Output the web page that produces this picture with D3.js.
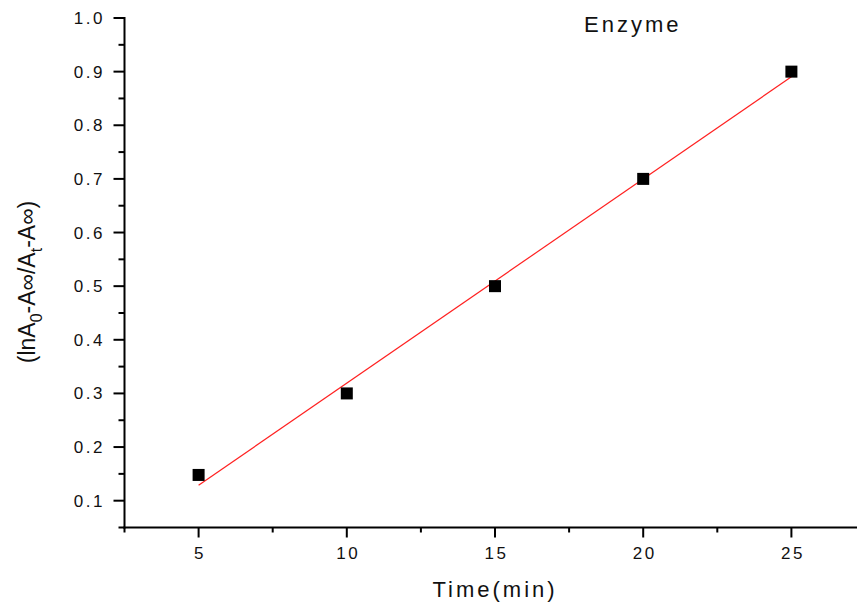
<!DOCTYPE html>
<html lang="en">
<head>
  <meta charset="UTF-8" />
  <title>Enzyme</title>
  <style>
    html, body {
      margin: 0;
      padding: 0;
      background: #fff;
      font-family: Arial, "Liberation Sans", sans-serif;
    }
    svg { display: block; }
    .tick-label { font-size: 17px; letter-spacing: 2.5px; fill: #111; }
    .title { font-size: 22px; letter-spacing: 3px; fill: #111; }
  </style>
</head>
<body>
<svg id="chart" width="857" height="603"></svg>

<script src="https://d3js.org/d3.v7.min.js"></script>
<script>
  // data
  const times = [5, 10, 15, 20, 25];
  const values = [0.148, 0.3, 0.5, 0.7, 0.9];
  const xTickValues = [5, 10, 15, 20, 25];
  const yTickValues = [0.1, 0.2, 0.3, 0.4, 0.5, 0.6, 0.7, 0.8, 0.9, 1.0];

  const svg = d3.select("#chart");

  const x = d3.scaleLinear().domain([2.5, 27.5]).range([124.5, 865.5]);
  const y = d3.scaleLinear().domain([0.05, 1.0]).range([527.5, 18]);

  // least squares fit, drawn between the first and last time
  const mx = d3.mean(times), my = d3.mean(values);
  const slope = d3.sum(times, (t, i) => (t - mx) * (values[i] - my)) /
                d3.sum(times, t => (t - mx) * (t - mx));
  const intercept = my - slope * mx;
  const fitX = [d3.min(times), d3.max(times)];

  // axes
  const xMinor = d3.range(2.5, 28, 5);
  const yMinor = d3.range(0.05, 1.0, 0.1);

  const gx = svg.append("g").attr("stroke", "#000").attr("stroke-width", 2);
  gx.append("line")
    .attr("x1", x(2.5) - 1).attr("x2", 857)
    .attr("y1", y(0.05)).attr("y2", y(0.05));
  gx.selectAll(".xmaj").data(xTickValues).enter().append("line")
    .attr("x1", d => x(d)).attr("x2", d => x(d))
    .attr("y1", y(0.05)).attr("y2", y(0.05) + 10);
  gx.selectAll(".xmin").data(xMinor).enter().append("line")
    .attr("x1", d => x(d)).attr("x2", d => x(d))
    .attr("y1", y(0.05)).attr("y2", y(0.05) + 5);

  const gy = svg.append("g").attr("stroke", "#000").attr("stroke-width", 2);
  gy.append("line")
    .attr("x1", x(2.5)).attr("x2", x(2.5))
    .attr("y1", y(1.0) - 1).attr("y2", y(0.05) + 1);
  gy.selectAll(".ymaj").data(yTickValues).enter().append("line")
    .attr("x1", x(2.5) - 11).attr("x2", x(2.5))
    .attr("y1", d => y(d)).attr("y2", d => y(d));
  gy.selectAll(".ymin").data(yMinor).enter().append("line")
    .attr("x1", x(2.5) - 6).attr("x2", x(2.5))
    .attr("y1", d => y(d)).attr("y2", d => y(d));

  svg.selectAll(".xl").data(xTickValues).enter().append("text")
    .attr("class", "tick-label")
    .attr("x", d => x(d) + 1.5)
    .attr("y", 559)
    .attr("text-anchor", "middle")
    .text(d => d);

  svg.selectAll(".yl").data(yTickValues).enter().append("text")
    .attr("class", "tick-label")
    .attr("x", 105)
    .attr("y", d => y(d) + 6)
    .attr("text-anchor", "end")
    .text(d => d.toFixed(1));

  // fit line
  svg.append("line")
    .attr("x1", x(fitX[0])).attr("y1", y(intercept + slope * fitX[0]))
    .attr("x2", x(fitX[1])).attr("y2", y(intercept + slope * fitX[1]))
    .attr("stroke", "#ff2020")
    .attr("stroke-width", 1.2);

  // points
  svg.selectAll(".pt").data(times).enter().append("rect")
    .attr("x", d => x(d) - 6)
    .attr("y", (d, i) => y(values[i]) - 6)
    .attr("width", 12).attr("height", 12)
    .attr("fill", "#000");

  // titles
  svg.append("text").attr("class", "title")
    .attr("x", 584).attr("y", 32)
    .text("Enzyme");

  svg.append("text").attr("class", "title")
    .attr("x", 495).attr("y", 597)
    .attr("text-anchor", "middle")
    .text("Time(min)");

  const yt = svg.append("text")
    .attr("transform", "translate(35,282) rotate(-90)")
    .attr("text-anchor", "middle")
    .style("font-size", "23px")
    .attr("fill", "#111");
  yt.append("tspan").text("(lnA");
  yt.append("tspan").attr("dy", 7).style("font-size", "16px").text("0");
  yt.append("tspan").attr("dy", -7).text("-A\u221E/A");
  yt.append("tspan").attr("dy", 7).style("font-size", "16px").text("t");
  yt.append("tspan").attr("dy", -7).text("-A\u221E)");
</script>
</body>
</html>
